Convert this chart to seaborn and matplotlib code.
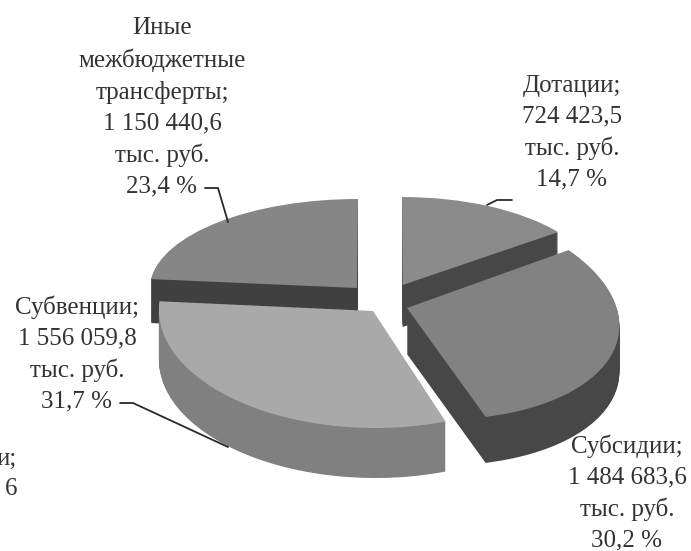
import matplotlib
matplotlib.use("Agg")
import matplotlib.pyplot as plt
from matplotlib.transforms import Affine2D
import seaborn as sns

sns.set_theme(style="white")
plt.rcParams['font.family'] = ['Liberation Serif', 'DejaVu Serif']

# Data, clockwise from the top
names = ["Дотации", "Субсидии", "Субвенции", "Иные межбюджетные трансферты"]
values = [724423.5, 1484683.6, 1556059.8, 1150440.6]
label_texts = [
    "Дотации;\n724 423,5\nтыс. руб.\n14,7 %",
    "Субсидии;\n1 484 683,6\nтыс. руб.\n30,2 %",
    "Субвенции;\n1 556 059,8\nтыс. руб.\n31,7 %",
    "Иные\nмежбюджетные\nтрансферты;\n1 150 440,6\nтыс. руб.\n23,4 %",
]
top_colors = ["#8b8b8b", "#828282", "#a9a9a9", "#868686"]
wall_colors = ["#474747", "#474747", "#808080", "#404040"]

# Projection of each slice: apex, sin-axis, cos-axis, depth (picture pixels)
geometry = {
    0: ((402.7, 285), (195, 0), (-0.7, -88), 42),
    1: ((407, 308), (212, 11), (-13, -111), 46),
    2: ((373, 311), (214, -2), (-6, -117), 50),
    3: ((357, 288), (207, 0), (1, -89), 44),
}
draw_order = [3, 0, 1, 2]
label_pos = {0: (572, 133), 1: (627, 493), 2: (77, 354), 3: (162, 107)}
leaders = {
    0: [(512, 200), (497, 200), (487, 205)],
    2: [(120, 403), (133, 403), (228, 447)],
    3: [(205, 188), (218, 188), (228, 222)],
}

fig = plt.figure(figsize=(6.91, 5.51), dpi=100, facecolor="white")
ax = fig.add_axes([0, 0, 1, 1])
total = sum(values)


def draw_slice(i, dy, color):
    start = 90 - 360 * sum(values[:i]) / total
    wedges, _ = ax.pie([values[i], total - values[i]], startangle=start,
                       counterclock=False, colors=[color, "none"])
    (ax0, ay0), (ux, uy), (vx, vy), _d = geometry[i]
    tr = Affine2D.from_values(ux, uy, vx, vy, ax0, ay0 + dy) + ax.transData
    for w in wedges:
        w.set_transform(tr)
        w.set_linewidth(0)


for i in draw_order:
    depth = geometry[i][3]
    for dy in range(depth, 0, -1):
        draw_slice(i, dy, wall_colors[i])
    draw_slice(i, 0, top_colors[i])

ax.set_aspect("auto")
ax.set_xlim(0, 691)
ax.set_ylim(551, 0)
ax.axis("off")

for i, txt in enumerate(label_texts):
    x, y = label_pos[i]
    ax.text(x, y, txt, ha="center", va="center", fontsize=18,
            color="#333333", linespacing=1.5, clip_on=False)
ax.text(17, 474, "и;\n6", ha="right", va="center", fontsize=18,
        color="#333333", linespacing=1.5)

for pts in leaders.values():
    ax.plot([p[0] for p in pts], [p[1] for p in pts], color="#2a2a2a", lw=1.3)

fig.savefig("out.png", dpi=100)
